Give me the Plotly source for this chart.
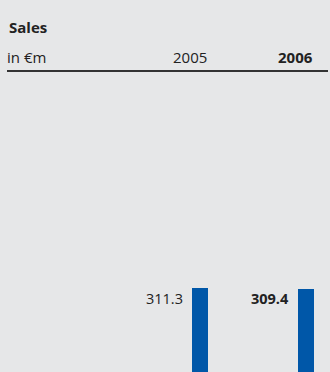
import plotly.graph_objects as go

categories = ["2005", "2006"]
sales = [311.3, 309.4]
value_labels = ["311.3", "309.4"]
title = "Sales"
unit = "in €m"

W, H = 330, 372
bg = "#e6e7e8"
bar_color = "#0057a8"
font_family = "Open Sans, Liberation Sans, sans-serif"
txt_color = "#222222"

def py(p):
    return 1 - p / H

def px(p):
    return p / W

plot_top = 80
fig = go.Figure()
fig.add_trace(go.Bar(x=categories, y=sales, marker=dict(color=bar_color, line=dict(width=0)),
                     width=16 / 106, hoverinfo="skip"))

# value labels left of bars
for i, (v, t) in enumerate(zip(sales, value_labels)):
    bold = i == len(categories) - 1
    fig.add_annotation(x=i, y=v, xref="x", yref="y", text=f"<b>{t}</b>" if bold else t,
                       showarrow=False, xanchor="right", yanchor="middle", xshift=-15, yshift=-10,
                       font=dict(family=font_family, size=14.5, color=txt_color))

# header
fig.add_annotation(x=px(7), y=py(27), xref="paper", yref="paper", text=f"<b>{title}</b>",
                   showarrow=False, xanchor="left", yanchor="middle",
                   font=dict(family=font_family, size=15, color=txt_color))
fig.add_annotation(x=px(5), y=py(57), xref="paper", yref="paper", text=unit,
                   showarrow=False, xanchor="left", yanchor="middle",
                   font=dict(family=font_family, size=15, color=txt_color))
for i, c in enumerate(categories):
    bold = i == len(categories) - 1
    fig.add_annotation(x=i, y=py(57), xref="x", yref="paper", text=f"<b>{c}</b>" if bold else c,
                       showarrow=False, xanchor="right", yanchor="middle", xshift=9,
                       font=dict(family=font_family, size=15, color=txt_color))

fig.add_shape(type="line", xref="paper", yref="paper", x0=px(7), x1=px(328), y0=py(71), y1=py(71),
              line=dict(color="#333333", width=2))

scale = 106.0
r0 = -200.0 / scale
r1 = r0 + W / scale
ymax = sales[0] * (H - plot_top) / 84.0

fig.update_layout(
    width=W, height=H, margin=dict(l=0, r=0, t=0, b=0),
    paper_bgcolor=bg, plot_bgcolor=bg, showlegend=False,
    xaxis=dict(type="category", range=[r0, r1], visible=False, fixedrange=True),
    yaxis=dict(range=[0, ymax], visible=False, domain=[0, (H - plot_top) / H], fixedrange=True),
    bargap=0,
)

fig.write_html("out.html", config={"displayModeBar": False})
